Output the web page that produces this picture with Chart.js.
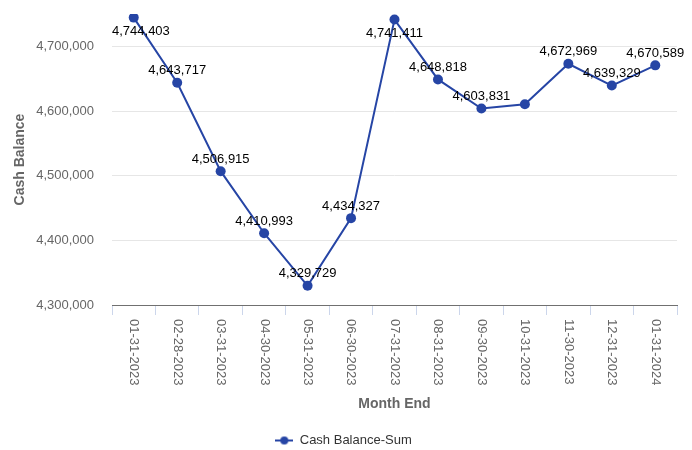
<!DOCTYPE html>
<html>
<head>
<meta charset="utf-8">
<script src="https://cdn.jsdelivr.net/npm/chart.js@4"></script>
<style>
  html, body { margin: 0; padding: 0; background: #fff; }
  #wrap { width: 692px; height: 450px; }
</style>
</head>
<body>
<div id="wrap"><canvas id="chart"></canvas></div>
<script>
const months = ['01-31-2023', '02-28-2023', '03-31-2023', '04-30-2023', '05-31-2023', '06-30-2023',
  '07-31-2023', '08-31-2023', '09-30-2023', '10-31-2023', '11-30-2023', '12-31-2023', '01-31-2024']
const cashBalance = [4744403, 4643717, 4506915, 4410993, 4329729, 4434327,
  4741411, 4648818, 4603831, 4610500, 4672969, 4639329, 4670589]
const yTicks = [4300000, 4400000, 4500000, 4600000, 4700000]

const FONT = '"Liberation Sans", Arial, sans-serif'
const lineColor = '#2645a5'
const fmt = (v) => v.toLocaleString('en-US')

// legend symbol: short line with a dot
const legendIcon = document.createElement('canvas')
legendIcon.width = 18
legendIcon.height = 10
{
    const c = legendIcon.getContext('2d')
    c.strokeStyle = lineColor
    c.lineWidth = 2
    c.beginPath()
    c.moveTo(0, 5)
    c.lineTo(18, 5)
    c.stroke()
    c.fillStyle = lineColor
    c.beginPath()
    c.arc(9, 5, 4, 0, Math.PI * 2)
    c.fill()
}

// x labels rotated clockwise, reading top to bottom
const xLabels = {
    id: 'xLabels',
    afterDraw(chart) {
        const ctx = chart.ctx
        const xs = chart.scales.x
        ctx.save()
        ctx.font = '13px ' + FONT
        ctx.fillStyle = '#666'
        ctx.textAlign = 'left'
        ctx.textBaseline = 'middle'
        months.forEach((m, i) => {
            ctx.save()
            ctx.translate(xs.getPixelForValue(i), xs.top + 14)
            ctx.rotate(Math.PI / 2)
            ctx.fillText(m, 0, 0)
            ctx.restore()
        })
        ctx.restore()
    }
}

// value labels above points (below if no room), hidden when overlapping
const valueLabels = {
    id: 'valueLabels',
    afterDatasetsDraw(chart) {
        const ctx = chart.ctx
        const area = chart.chartArea
        const meta = chart.getDatasetMeta(0)
        const boxes = []
        ctx.save()
        ctx.font = '13px ' + FONT
        ctx.fillStyle = '#000'
        ctx.textBaseline = 'middle'
        ctx.textAlign = 'left'
        meta.data.forEach((pt, i) => {
            const text = fmt(cashBalance[i])
            const w = ctx.measureText(text).width
            let cy = pt.y - 12
            if (cy - 7 < area.top) cy = pt.y + 14
            let x = pt.x - w / 2
            if (x < area.left) x = area.left
            const box = { l: x, r: x + w, t: cy - 7, b: cy + 7 }
            if (boxes.some(o => box.l < o.r && box.r > o.l && box.t < o.b && box.b > o.t)) return
            boxes.push(box)
            ctx.fillText(text, x, cy)
        })
        ctx.restore()
    }
}

new Chart(document.getElementById('chart'), {
    type: 'line',
    data: {
        labels: months,
        datasets: [{
            label: 'Cash Balance-Sum',
            data: cashBalance,
            borderColor: lineColor,
            backgroundColor: lineColor,
            borderWidth: 2,
            pointRadius: 5,
            pointHoverRadius: 5,
            pointBackgroundColor: lineColor,
            pointBorderWidth: 0,
            pointStyle: 'circle',
            tension: 0
        }]
    },
    options: {
        responsive: true,
        maintainAspectRatio: false,
        animation: false,
        layout: { padding: { left: 10, right: 15, top: 14, bottom: -7 } },
        plugins: {
            legend: {
                position: 'bottom',
                labels: {
                    usePointStyle: true,
                    pointStyleWidth: 18,
                    padding: 4,
                    color: '#333',
                    font: { family: FONT, size: 13 },
                    generateLabels: (chart) => [{
                        text: chart.data.datasets[0].label,
                        pointStyle: legendIcon,
                        fillStyle: lineColor,
                        strokeStyle: lineColor,
                        lineWidth: 0,
                        fontColor: '#333',
                        datasetIndex: 0
                    }]
                }
            },
            tooltip: { enabled: false }
        },
        scales: {
            x: {
                offset: true,
                ticks: { display: false },
                grid: {
                    offset: true,
                    drawOnChartArea: false,
                    drawTicks: true,
                    tickLength: 10,
                    color: '#ccd6eb'
                },
                border: { display: true, color: '#707070', width: 1 },
                title: {
                    display: true,
                    text: 'Month End',
                    color: '#666',
                    font: { family: FONT, size: 14, weight: 'bold' },
                    padding: { top: 0, bottom: 17 }
                },
                afterFit: (scale) => { scale.height = 125 }
            },
            y: {
                min: 4300000,
                max: 4750000,
                afterBuildTicks: (scale) => { scale.ticks = yTicks.map(v => ({ value: v })) },
                ticks: {
                    color: '#666',
                    padding: 18,
                    font: { family: FONT, size: 13 },
                    callback: (v) => fmt(v)
                },
                grid: { color: '#e6e6e6', drawTicks: false },
                border: { display: false },
                title: {
                    display: true,
                    text: 'Cash Balance',
                    color: '#666',
                    font: { family: FONT, size: 14, weight: 'bold' },
                    padding: { top: 2, bottom: 0 }
                },
                afterFit: (scale) => {
                    scale.width = 102
                    scale.paddingTop = 0
                    scale.paddingBottom = 0
                }
            }
        }
    },
    plugins: [xLabels, valueLabels]
})
</script>
</body>
</html>
